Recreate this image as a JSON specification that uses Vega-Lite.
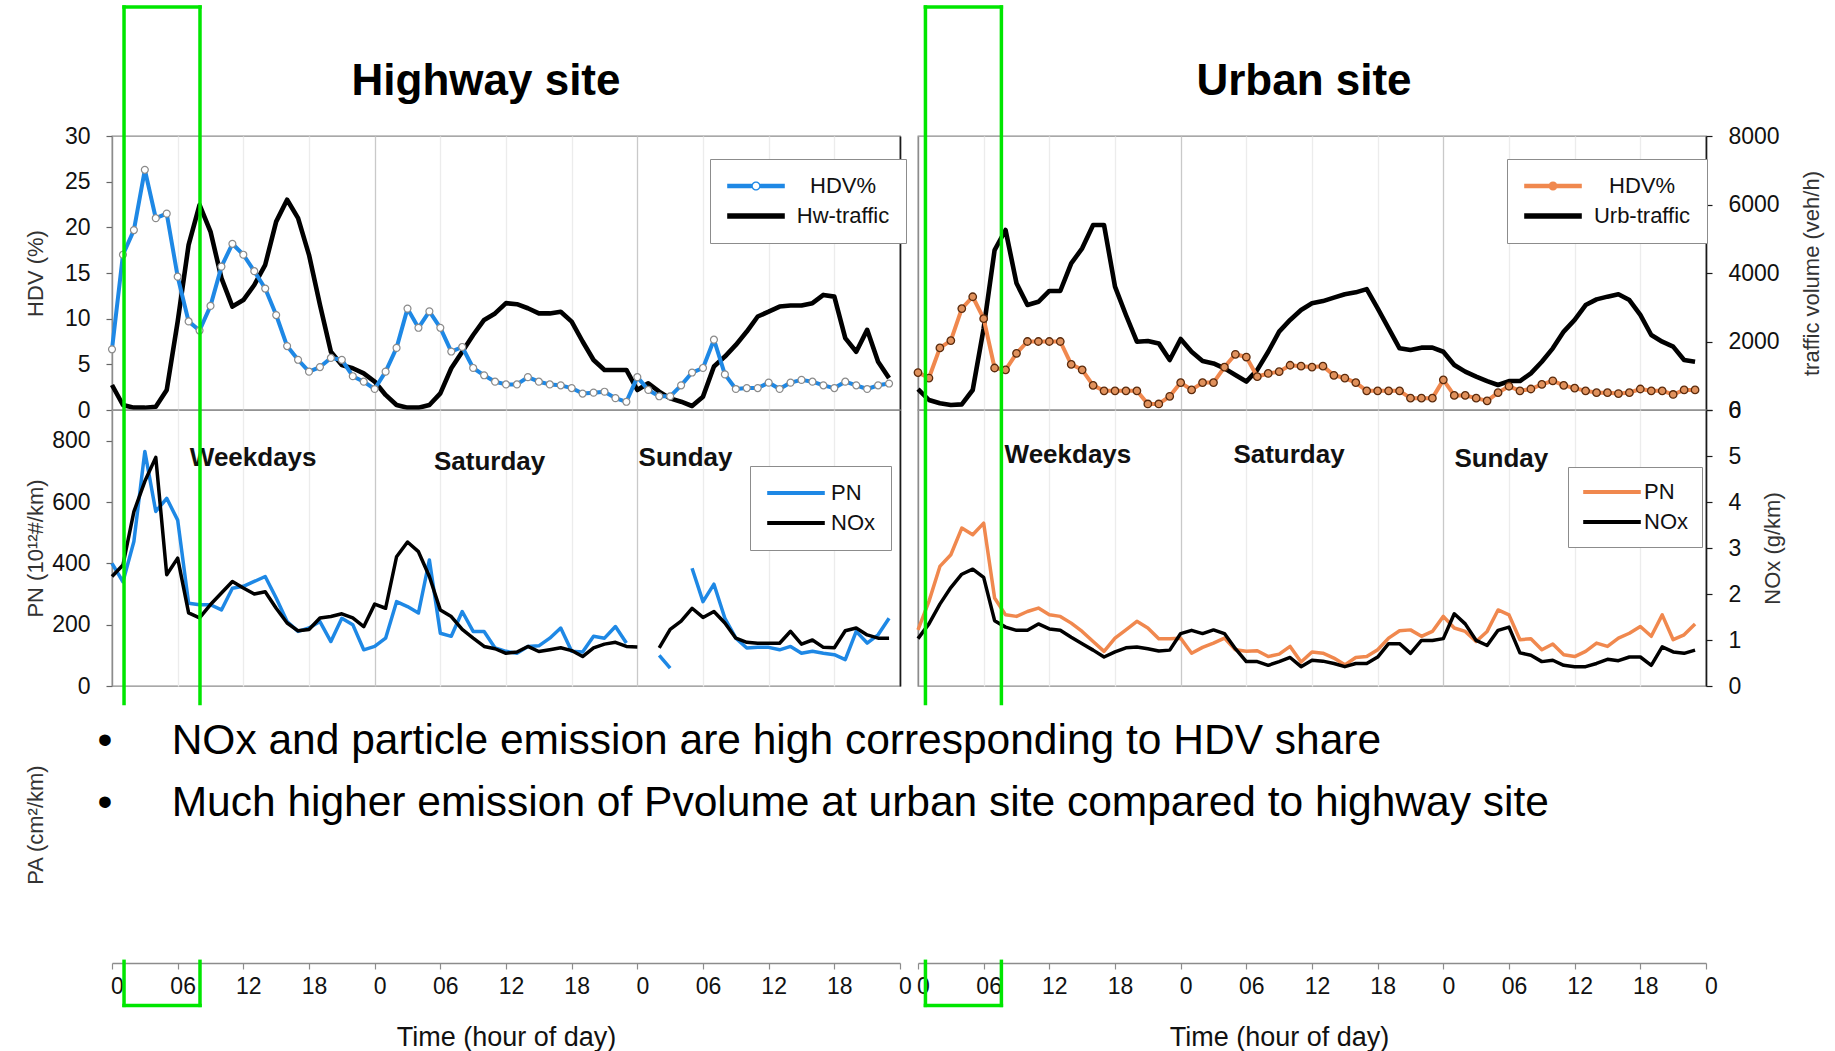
{
  "$schema": "https://vega.github.io/schema/vega-lite/v6.json",
  "background": "white",
  "padding": {"left": 23, "top": 4, "right": 10, "bottom": 4},
  "autosize": {"type": "pad"},
  "config": {
    "font": "Liberation Sans",
    "view": {"stroke": "#8c8c8c", "strokeWidth": 1.3},
    "axis": {"labelFont": "Liberation Sans", "labelFontSize": 23, "labelColor": "#111111", "titleFont": "Liberation Sans", "titleFontSize": 22, "titleFontWeight": "normal", "titleColor": "#333333", "domainColor": "#8c8c8c", "domainWidth": 1.3, "tickColor": "#666666", "tickWidth": 1.2, "grid": false},
    "title": {"font": "Liberation Sans", "fontSize": 44, "fontWeight": "bold", "color": "#000000", "offset": 21},
    "legend": {"labelFont": "Liberation Sans", "labelFontSize": 22, "labelColor": "#111111", "strokeColor": "#8c8c8c", "fillColor": "#ffffff", "padding": 16, "rowPadding": 8, "symbolSize": 324, "symbolOffset": 19},
    "rule": {"stroke": "#00e600", "strokeWidth": 3.5, "strokeCap": "square"}
  },
  "datasets": {
    "hours": [
      {"h":0,"hw_hdv":6.65,"hw_trf":730,"hw_pn":400,"hw_nox":2.38,"ub_hdv":4.1,"ub_trf":613,"ub_pn":183,"ub_nox":1.03},
      {"h":1,"hw_hdv":17.0,"hw_trf":146,"hw_pn":340,"hw_nox":2.63,"ub_hdv":3.5,"ub_trf":292,"ub_pn":276,"ub_nox":1.35},
      {"h":2,"hw_hdv":19.7,"hw_trf":68,"hw_pn":471,"hw_nox":3.79,"ub_hdv":6.8,"ub_trf":195,"ub_pn":390,"ub_nox":1.78},
      {"h":3,"hw_hdv":26.3,"hw_trf":68,"hw_pn":765,"hw_nox":4.45,"ub_hdv":7.6,"ub_trf":146,"ub_pn":428,"ub_nox":2.14},
      {"h":4,"hw_hdv":21.0,"hw_trf":97,"hw_pn":569,"hw_nox":4.97,"ub_hdv":11.1,"ub_trf":165,"ub_pn":515,"ub_nox":2.43},
      {"h":5,"hw_hdv":21.5,"hw_trf":584,"hw_pn":612,"hw_nox":2.42,"ub_hdv":12.4,"ub_trf":584,"ub_pn":493,"ub_nox":2.54},
      {"h":6,"hw_hdv":14.6,"hw_trf":2580,"hw_pn":541,"hw_nox":2.78,"ub_hdv":10.0,"ub_trf":2385,"ub_pn":531,"ub_nox":2.36},
      {"h":7,"hw_hdv":9.7,"hw_trf":4820,"hw_pn":270,"hw_nox":1.59,"ub_hdv":4.6,"ub_trf":4670,"ub_pn":287,"ub_nox":1.42},
      {"h":8,"hw_hdv":8.7,"hw_trf":5990,"hw_pn":265,"hw_nox":1.48,"ub_hdv":4.4,"ub_trf":5255,"ub_pn":232,"ub_nox":1.28},
      {"h":9,"hw_hdv":11.4,"hw_trf":5210,"hw_pn":265,"hw_nox":1.77,"ub_hdv":6.2,"ub_trf":3700,"ub_pn":227,"ub_nox":1.21},
      {"h":10,"hw_hdv":15.7,"hw_trf":3850,"hw_pn":248,"hw_nox":2.02,"ub_hdv":7.5,"ub_trf":3065,"ub_pn":243,"ub_nox":1.21},
      {"h":11,"hw_hdv":18.2,"hw_trf":3020,"hw_pn":319,"hw_nox":2.27,"ub_hdv":7.5,"ub_trf":3160,"ub_pn":254,"ub_nox":1.35},
      {"h":12,"hw_hdv":17.0,"hw_trf":3210,"hw_pn":325,"hw_nox":2.13,"ub_hdv":7.5,"ub_trf":3475,"ub_pn":232,"ub_nox":1.24},
      {"h":13,"hw_hdv":15.2,"hw_trf":3650,"hw_pn":341,"hw_nox":2.00,"ub_hdv":7.5,"ub_trf":3475,"ub_pn":227,"ub_nox":1.21},
      {"h":14,"hw_hdv":13.3,"hw_trf":4240,"hw_pn":357,"hw_nox":2.05,"ub_hdv":5.0,"ub_trf":4280,"ub_pn":205,"ub_nox":1.06},
      {"h":15,"hw_hdv":10.4,"hw_trf":5500,"hw_pn":287,"hw_nox":1.69,"ub_hdv":4.4,"ub_trf":4720,"ub_pn":178,"ub_nox":0.92},
      {"h":16,"hw_hdv":7.0,"hw_trf":6140,"hw_pn":210,"hw_nox":1.37,"ub_hdv":2.7,"ub_trf":5400,"ub_pn":145,"ub_nox":0.78},
      {"h":17,"hw_hdv":5.5,"hw_trf":5600,"hw_pn":178,"hw_nox":1.20,"ub_hdv":2.1,"ub_trf":5400,"ub_pn":113,"ub_nox":0.63},
      {"h":18,"hw_hdv":4.2,"hw_trf":4530,"hw_pn":189,"hw_nox":1.23,"ub_hdv":2.1,"ub_trf":3600,"ub_pn":156,"ub_nox":0.74},
      {"h":19,"hw_hdv":4.7,"hw_trf":3070,"hw_pn":210,"hw_nox":1.48,"ub_hdv":2.1,"ub_trf":2775,"ub_pn":183,"ub_nox":0.83},
      {"h":20,"hw_hdv":5.7,"hw_trf":1700,"hw_pn":145,"hw_nox":1.51,"ub_hdv":2.1,"ub_trf":1995,"ub_pn":211,"ub_nox":0.85},
      {"h":21,"hw_hdv":5.5,"hw_trf":1310,"hw_pn":221,"hw_nox":1.57,"ub_hdv":0.66,"ub_trf":2015,"ub_pn":189,"ub_nox":0.81},
      {"h":22,"hw_hdv":3.7,"hw_trf":1220,"hw_pn":200,"hw_nox":1.48,"ub_hdv":0.66,"ub_trf":1945,"ub_pn":154,"ub_nox":0.76},
      {"h":23,"hw_hdv":3.1,"hw_trf":1070,"hw_pn":118,"hw_nox":1.29,"ub_hdv":1.5,"ub_trf":1460,"ub_pn":154,"ub_nox":0.78},
      {"h":24,"hw_hdv":2.3,"hw_trf":830,"hw_pn":129,"hw_nox":1.78,"ub_hdv":3.0,"ub_trf":2073,"ub_pn":156,"ub_nox":1.14},
      {"h":25,"hw_hdv":4.2,"hw_trf":440,"hw_pn":156,"hw_nox":1.69,"ub_hdv":2.2,"ub_trf":1700,"ub_pn":107,"ub_nox":1.21},
      {"h":26,"hw_hdv":6.8,"hw_trf":146,"hw_pn":275,"hw_nox":2.81,"ub_hdv":3.0,"ub_trf":1430,"ub_pn":126,"ub_nox":1.14},
      {"h":27,"hw_hdv":11.1,"hw_trf":68,"hw_pn":259,"hw_nox":3.13,"ub_hdv":3.0,"ub_trf":1360,"ub_pn":140,"ub_nox":1.22},
      {"h":28,"hw_hdv":9.0,"hw_trf":68,"hw_pn":238,"hw_nox":2.92,"ub_hdv":4.7,"ub_trf":1215,"ub_pn":156,"ub_nox":1.14},
      {"h":29,"hw_hdv":10.8,"hw_trf":146,"hw_pn":411,"hw_nox":2.38,"ub_hdv":6.1,"ub_trf":1020,"ub_pn":118,"ub_nox":0.81},
      {"h":30,"hw_hdv":9.0,"hw_trf":487,"hw_pn":172,"hw_nox":1.65,"ub_hdv":5.8,"ub_trf":830,"ub_pn":113,"ub_nox":0.53},
      {"h":31,"hw_hdv":6.4,"hw_trf":1220,"hw_pn":162,"hw_nox":1.51,"ub_hdv":3.65,"ub_trf":1170,"ub_pn":115,"ub_nox":0.53},
      {"h":32,"hw_hdv":6.9,"hw_trf":1700,"hw_pn":243,"hw_nox":1.23,"ub_hdv":4.0,"ub_trf":1700,"ub_pn":96,"ub_nox":0.45},
      {"h":33,"hw_hdv":4.6,"hw_trf":2190,"hw_pn":178,"hw_nox":1.04,"ub_hdv":4.2,"ub_trf":2290,"ub_pn":104,"ub_nox":0.53},
      {"h":34,"hw_hdv":3.8,"hw_trf":2630,"hw_pn":178,"hw_nox":0.86,"ub_hdv":4.9,"ub_trf":2630,"ub_pn":129,"ub_nox":0.62},
      {"h":35,"hw_hdv":3.1,"hw_trf":2820,"hw_pn":124,"hw_nox":0.81,"ub_hdv":4.8,"ub_trf":2920,"ub_pn":78,"ub_nox":0.42},
      {"h":36,"hw_hdv":2.8,"hw_trf":3120,"hw_pn":113,"hw_nox":0.71,"ub_hdv":4.7,"ub_trf":3115,"ub_pn":111,"ub_nox":0.56},
      {"h":37,"hw_hdv":2.8,"hw_trf":3090,"hw_pn":107,"hw_nox":0.74,"ub_hdv":4.8,"ub_trf":3180,"ub_pn":107,"ub_nox":0.54},
      {"h":38,"hw_hdv":3.6,"hw_trf":2970,"hw_pn":129,"hw_nox":0.86,"ub_hdv":3.8,"ub_trf":3280,"ub_pn":91,"ub_nox":0.49},
      {"h":39,"hw_hdv":3.1,"hw_trf":2820,"hw_pn":131,"hw_nox":0.75,"ub_hdv":3.5,"ub_trf":3380,"ub_pn":69,"ub_nox":0.42},
      {"h":40,"hw_hdv":2.8,"hw_trf":2820,"hw_pn":156,"hw_nox":0.79,"ub_hdv":3.0,"ub_trf":3435,"ub_pn":93,"ub_nox":0.49},
      {"h":41,"hw_hdv":2.7,"hw_trf":2870,"hw_pn":189,"hw_nox":0.83,"ub_hdv":2.1,"ub_trf":3530,"ub_pn":96,"ub_nox":0.49},
      {"h":42,"hw_hdv":2.4,"hw_trf":2580,"hw_pn":113,"hw_nox":0.77,"ub_hdv":2.1,"ub_trf":2970,"ub_pn":118,"ub_nox":0.63},
      {"h":43,"hw_hdv":1.8,"hw_trf":2000,"hw_pn":111,"hw_nox":0.64,"ub_hdv":2.1,"ub_trf":2385,"ub_pn":156,"ub_nox":0.92},
      {"h":44,"hw_hdv":1.9,"hw_trf":1460,"hw_pn":162,"hw_nox":0.83,"ub_hdv":2.1,"ub_trf":1800,"ub_pn":180,"ub_nox":0.92},
      {"h":45,"hw_hdv":2.0,"hw_trf":1170,"hw_pn":156,"hw_nox":0.91,"ub_hdv":1.3,"ub_trf":1750,"ub_pn":183,"ub_nox":0.71},
      {"h":46,"hw_hdv":1.3,"hw_trf":1170,"hw_pn":194,"hw_nox":0.95,"ub_hdv":1.3,"ub_trf":1820,"ub_pn":162,"ub_nox":0.99},
      {"h":47,"hw_hdv":0.9,"hw_trf":1170,"hw_pn":140,"hw_nox":0.86,"ub_hdv":1.3,"ub_trf":1820,"ub_pn":178,"ub_nox":0.99},
      {"h":48,"hw_hdv":3.6,"hw_trf":584,"hw_pn":null,"hw_nox":0.85,"ub_hdv":3.3,"ub_trf":1700,"ub_pn":227,"ub_nox":1.03},
      {"h":49,"hw_hdv":2.2,"hw_trf":780,"hw_pn":null,"hw_nox":null,"ub_hdv":1.6,"ub_trf":1315,"ub_pn":189,"ub_nox":1.57},
      {"h":50,"hw_hdv":1.5,"hw_trf":535,"hw_pn":100,"hw_nox":0.83,"ub_hdv":1.6,"ub_trf":1120,"ub_pn":178,"ub_nox":1.35},
      {"h":51,"hw_hdv":1.5,"hw_trf":340,"hw_pn":58,"hw_nox":1.23,"ub_hdv":1.3,"ub_trf":975,"ub_pn":145,"ub_nox":0.99},
      {"h":52,"hw_hdv":2.7,"hw_trf":243,"hw_pn":null,"hw_nox":1.41,"ub_hdv":1.0,"ub_trf":845,"ub_pn":178,"ub_nox":0.88},
      {"h":53,"hw_hdv":4.1,"hw_trf":117,"hw_pn":384,"hw_nox":1.69,"ub_hdv":1.9,"ub_trf":730,"ub_pn":248,"ub_nox":1.21},
      {"h":54,"hw_hdv":4.6,"hw_trf":390,"hw_pn":275,"hw_nox":1.49,"ub_hdv":2.6,"ub_trf":845,"ub_pn":232,"ub_nox":1.28},
      {"h":55,"hw_hdv":7.7,"hw_trf":1270,"hw_pn":332,"hw_nox":1.62,"ub_hdv":2.1,"ub_trf":845,"ub_pn":151,"ub_nox":0.72},
      {"h":56,"hw_hdv":3.9,"hw_trf":1560,"hw_pn":221,"hw_nox":1.37,"ub_hdv":2.3,"ub_trf":1070,"ub_pn":154,"ub_nox":0.67},
      {"h":57,"hw_hdv":2.3,"hw_trf":1900,"hw_pn":156,"hw_nox":1.04,"ub_hdv":2.8,"ub_trf":1410,"ub_pn":118,"ub_nox":0.53},
      {"h":58,"hw_hdv":2.4,"hw_trf":2290,"hw_pn":124,"hw_nox":0.95,"ub_hdv":3.2,"ub_trf":1800,"ub_pn":137,"ub_nox":0.56},
      {"h":59,"hw_hdv":2.4,"hw_trf":2730,"hw_pn":126,"hw_nox":0.93,"ub_hdv":2.7,"ub_trf":2290,"ub_pn":102,"ub_nox":0.45},
      {"h":60,"hw_hdv":3.0,"hw_trf":2870,"hw_pn":126,"hw_nox":0.93,"ub_hdv":2.4,"ub_trf":2630,"ub_pn":96,"ub_nox":0.42},
      {"h":61,"hw_hdv":2.3,"hw_trf":3020,"hw_pn":118,"hw_nox":0.93,"ub_hdv":2.1,"ub_trf":3065,"ub_pn":113,"ub_nox":0.42},
      {"h":62,"hw_hdv":3.0,"hw_trf":3050,"hw_pn":129,"hw_nox":1.19,"ub_hdv":1.9,"ub_trf":3230,"ub_pn":140,"ub_nox":0.49},
      {"h":63,"hw_hdv":3.3,"hw_trf":3050,"hw_pn":107,"hw_nox":0.91,"ub_hdv":1.9,"ub_trf":3310,"ub_pn":129,"ub_nox":0.58},
      {"h":64,"hw_hdv":3.1,"hw_trf":3120,"hw_pn":113,"hw_nox":1.00,"ub_hdv":1.8,"ub_trf":3380,"ub_pn":156,"ub_nox":0.55},
      {"h":65,"hw_hdv":2.7,"hw_trf":3360,"hw_pn":107,"hw_nox":0.84,"ub_hdv":1.9,"ub_trf":3210,"ub_pn":172,"ub_nox":0.63},
      {"h":66,"hw_hdv":2.4,"hw_trf":3310,"hw_pn":102,"hw_nox":0.83,"ub_hdv":2.3,"ub_trf":2775,"ub_pn":194,"ub_nox":0.63},
      {"h":67,"hw_hdv":3.1,"hw_trf":2100,"hw_pn":86,"hw_nox":1.20,"ub_hdv":2.1,"ub_trf":2190,"ub_pn":162,"ub_nox":0.45},
      {"h":68,"hw_hdv":2.7,"hw_trf":1700,"hw_pn":178,"hw_nox":1.26,"ub_hdv":2.1,"ub_trf":1995,"ub_pn":232,"ub_nox":0.85},
      {"h":69,"hw_hdv":2.3,"hw_trf":2340,"hw_pn":140,"hw_nox":1.11,"ub_hdv":1.7,"ub_trf":1850,"ub_pn":151,"ub_nox":0.74},
      {"h":70,"hw_hdv":2.7,"hw_trf":1410,"hw_pn":167,"hw_nox":1.04,"ub_hdv":2.2,"ub_trf":1460,"ub_pn":167,"ub_nox":0.71},
      {"h":71,"hw_hdv":2.9,"hw_trf":930,"hw_pn":221,"hw_nox":1.04,"ub_hdv":2.2,"ub_trf":1410,"ub_pn":202,"ub_nox":0.78}
    ],
    "hw_days": [
      {"label": "Weekdays", "h": 12.9, "pn": 745},
      {"label": "Saturday", "h": 34.5, "pn": 731},
      {"label": "Sunday", "h": 52.4, "pn": 742}
    ],
    "ub_days": [
      {"label": "Weekdays", "h": 13.7, "pn": 752},
      {"label": "Saturday", "h": 33.9, "pn": 752},
      {"label": "Sunday", "h": 53.3, "pn": 740}
    ],
    "bullets": [
      {"text": "NOx and particle emission are high corresponding to HDV share", "pa": 0.802},
      {"text": "Much higher emission of Pvolume at urban site compared to highway site", "pa": 0.578}
    ]
  },
  "concat": [
    {
      "width": 788, "height": 274,
      "title": {"text": "Highway site", "dx": -20},
      "data": {"name": "hours"},
      "encoding": {"x": {"field": "h", "type": "quantitative", "scale": {"domain": [0, 72], "nice": false, "zero": false},
        "axis": {"values": [0,6,12,18,24,30,36,42,48,54,60,66,72], "grid": true, "gridColor": {"condition": {"test": "datum.value % 24 === 0", "value": "#c9c9c9"}, "value": "#ececec"}, "gridWidth": 1.3, "labels": false, "ticks": false, "domain": false, "title": null}}},
      "layer": [
        {"mark": {"type": "line", "strokeWidth": 4.6, "strokeJoin": "round"},
         "encoding": {
           "y": {"field": "hw_trf", "type": "quantitative", "scale": {"domain": [0, 8000], "nice": false},
             "axis": {"orient": "right", "labels": false, "ticks": false, "title": null, "domainColor": "#1a1a1a", "domainWidth": 1.6}},
           "color": {"datum": "Hw-traffic", "type": "nominal", "scale": {"domain": ["HDV%", "Hw-traffic"], "range": ["#1e88e5", "#000000"]},
             "legend": {"orient": "none", "legendX": 598, "legendY": 23, "title": null, "labelAlign": "center", "labelOffset": 76, "symbolType": "M-3.2,-0.31H3.2V0.31H-3.2Z",
               "encode": {"symbols": {"update": {
                 "shape": {"signal": "datum.value === 'HDV%' ? 'M-3.2,-0.26H-0.47V0.26H-3.2ZM0.47,-0.26H3.2V0.26H0.47ZM0.51,0A0.51,0.51,0,1,1,-0.51,0A0.51,0.51,0,1,1,0.51,0ZM0.36,0A0.36,0.36,0,1,0,-0.36,0A0.36,0.36,0,1,0,0.36,0Z' : 'M-3.2,-0.31H3.2V0.31H-3.2Z'"},
                 "fill": {"signal": "datum.value === 'HDV%' ? '#1e88e5' : '#000000'"},
                 "stroke": {"value": "transparent"}, "strokeWidth": {"value": 0}, "opacity": {"value": 1}}}}}}
         }},
        {"layer": [
          {"mark": {"type": "line", "strokeWidth": 4, "strokeJoin": "round"},
           "encoding": {
             "y": {"field": "hw_hdv", "type": "quantitative", "scale": {"domain": [0, 30], "nice": false},
               "axis": {"orient": "left", "values": [0,5,10,15,20,25,30], "title": "HDV (%)", "tickSize": 6, "labelPadding": 16, "minExtent": 61, "maxExtent": 61, "titlePadding": 4}},
             "color": {"datum": "HDV%", "type": "nominal"}}},
          {"mark": {"type": "point", "filled": true, "fill": "#ffffff", "stroke": "#8a8a8a", "strokeWidth": 1.2, "size": 48, "opacity": 1},
           "encoding": {"y": {"field": "hw_hdv", "type": "quantitative"}}}
        ]}
      ],
      "resolve": {"scale": {"y": "independent"}}
    },
    {
      "width": 788, "height": 274,
      "title": {"text": "Urban site", "dx": -8},
      "data": {"name": "hours"},
      "encoding": {"x": {"field": "h", "type": "quantitative", "scale": {"domain": [0, 72], "nice": false, "zero": false},
        "axis": {"values": [0,6,12,18,24,30,36,42,48,54,60,66,72], "grid": true, "gridColor": {"condition": {"test": "datum.value % 24 === 0", "value": "#c9c9c9"}, "value": "#ececec"}, "gridWidth": 1.3, "labels": false, "ticks": false, "domain": false, "title": null}}},
      "layer": [
        {"mark": {"type": "line", "strokeWidth": 4.6, "strokeJoin": "round"},
         "encoding": {
           "y": {"field": "ub_trf", "type": "quantitative", "scale": {"domain": [0, 8000], "nice": false},
             "axis": {"orient": "right", "values": [0,2000,4000,6000,8000], "format": "d", "title": "traffic volume (veh/h)", "tickSize": 6, "tickColor": "#1a1a1a", "domainColor": "#1a1a1a", "domainWidth": 1.6, "labelPadding": 16, "titlePadding": 22, "titleAngle": 270, "titleBaseline": "top"}},
           "color": {"datum": "Urb-traffic", "type": "nominal", "scale": {"domain": ["HDV%", "Urb-traffic"], "range": ["#f0884e", "#000000"]},
             "legend": {"orient": "none", "legendX": 589, "legendY": 23, "title": null, "labelAlign": "center", "labelOffset": 78, "symbolType": "M-3.2,-0.31H3.2V0.31H-3.2Z",
               "encode": {"symbols": {"update": {
                 "shape": {"signal": "datum.value === 'HDV%' ? 'M-3.2,-0.26H3.2V0.26H-3.2ZM0.5,0A0.5,0.5,0,1,1,-0.5,0A0.5,0.5,0,1,1,0.5,0Z' : 'M-3.2,-0.31H3.2V0.31H-3.2Z'"},
                 "fill": {"signal": "datum.value === 'HDV%' ? '#f0884e' : '#000000'"},
                 "stroke": {"value": "transparent"}, "strokeWidth": {"value": 0}, "opacity": {"value": 1}}}}}}
         }},
        {"layer": [
          {"mark": {"type": "line", "strokeWidth": 4, "strokeJoin": "round"},
           "encoding": {
             "y": {"field": "ub_hdv", "type": "quantitative", "scale": {"domain": [0, 30], "nice": false},
               "axis": {"orient": "left", "labels": false, "ticks": false, "title": null}},
             "color": {"datum": "HDV%", "type": "nominal"}}},
          {"mark": {"type": "point", "filled": true, "fill": "#e0915c", "stroke": "#5a2a0c", "strokeWidth": 1.3, "size": 56, "opacity": 1},
           "encoding": {"y": {"field": "ub_hdv", "type": "quantitative"}}}
        ]}
      ],
      "resolve": {"scale": {"y": "independent"}}
    },
    {
      "width": 788, "height": 276,
      "data": {"name": "hours"},
      "encoding": {"x": {"field": "h", "type": "quantitative", "scale": {"domain": [0, 72], "nice": false, "zero": false},
        "axis": {"values": [0,6,12,18,24,30,36,42,48,54,60,66,72], "grid": true, "gridColor": {"condition": {"test": "datum.value % 24 === 0", "value": "#c9c9c9"}, "value": "#ececec"}, "gridWidth": 1.3, "labels": false, "ticks": false, "domain": false, "title": null}}},
      "layer": [
        {"layer": [
          {"mark": {"type": "line", "strokeWidth": 3.5, "strokeJoin": "round"},
           "encoding": {
             "y": {"field": "hw_pn", "type": "quantitative", "scale": {"domain": [0, 900], "nice": false},
               "axis": {"orient": "left", "values": [0,200,400,600,800], "title": "PN (10¹²#/km)", "tickSize": 6, "labelPadding": 16, "minExtent": 61, "maxExtent": 61, "titlePadding": 4}},
             "color": {"datum": "PN", "type": "nominal", "scale": {"domain": ["PN", "NOx"], "range": ["#1e88e5", "#000000"]},
               "legend": {"orient": "none", "legendX": 638, "legendY": 56, "title": null, "labelOffset": 24, "symbolType": "M-3.2,-0.23H3.2V0.23H-3.2Z",
                 "encode": {"symbols": {"update": {
                   "shape": {"value": "M-3.2,-0.23H3.2V0.23H-3.2Z"},
                   "fill": {"signal": "datum.value === 'PN' ? '#1e88e5' : '#000000'"},
                   "stroke": {"value": "transparent"}, "strokeWidth": {"value": 0}, "opacity": {"value": 1}}}}}}}},
          {"data": {"name": "hw_days"}, "mark": {"type": "text", "fontSize": 26, "fontWeight": "bold", "align": "center", "baseline": "middle", "color": "#111111"},
           "encoding": {"y": {"field": "pn", "type": "quantitative"}, "text": {"field": "label"}}}
        ]},
        {"mark": {"type": "line", "strokeWidth": 3.5, "strokeJoin": "round"},
         "encoding": {
           "y": {"field": "hw_nox", "type": "quantitative", "scale": {"domain": [0, 6], "nice": false},
             "axis": {"orient": "right", "labels": false, "ticks": false, "title": null, "domainColor": "#1a1a1a", "domainWidth": 1.6}},
           "color": {"datum": "NOx", "type": "nominal"}}}
      ],
      "resolve": {"scale": {"y": "independent"}}
    },
    {
      "width": 788, "height": 276,
      "data": {"name": "hours"},
      "encoding": {"x": {"field": "h", "type": "quantitative", "scale": {"domain": [0, 72], "nice": false, "zero": false},
        "axis": {"values": [0,6,12,18,24,30,36,42,48,54,60,66,72], "grid": true, "gridColor": {"condition": {"test": "datum.value % 24 === 0", "value": "#c9c9c9"}, "value": "#ececec"}, "gridWidth": 1.3, "labels": false, "ticks": false, "domain": false, "title": null}}},
      "layer": [
        {"layer": [
          {"mark": {"type": "line", "strokeWidth": 3.5, "strokeJoin": "round"},
           "encoding": {
             "y": {"field": "ub_pn", "type": "quantitative", "scale": {"domain": [0, 900], "nice": false},
               "axis": {"orient": "left", "labels": false, "ticks": false, "title": null}},
             "color": {"datum": "PN", "type": "nominal", "scale": {"domain": ["PN", "NOx"], "range": ["#f0884e", "#000000"]},
               "legend": {"orient": "none", "legendX": 650, "legendY": 57, "title": null, "labelOffset": 21, "padding": 14, "symbolType": "M-3.2,-0.23H3.2V0.23H-3.2Z",
                 "encode": {"symbols": {"update": {
                   "shape": {"value": "M-3.2,-0.23H3.2V0.23H-3.2Z"},
                   "fill": {"signal": "datum.value === 'PN' ? '#f0884e' : '#000000'"},
                   "stroke": {"value": "transparent"}, "strokeWidth": {"value": 0}, "opacity": {"value": 1}}}}}}}},
          {"data": {"name": "ub_days"}, "mark": {"type": "text", "fontSize": 26, "fontWeight": "bold", "align": "center", "baseline": "middle", "color": "#111111"},
           "encoding": {"y": {"field": "pn", "type": "quantitative"}, "text": {"field": "label"}}}
        ]},
        {"mark": {"type": "line", "strokeWidth": 3.5, "strokeJoin": "round"},
         "encoding": {
           "y": {"field": "ub_nox", "type": "quantitative", "scale": {"domain": [0, 6], "nice": false},
             "axis": {"orient": "right", "values": [0,1,2,3,4,5,6], "title": "NOx (g/km)", "tickSize": 6, "tickColor": "#1a1a1a", "domainColor": "#1a1a1a", "domainWidth": 1.6, "labelPadding": 16, "titlePadding": 22, "titleAngle": 270, "titleBaseline": "top"}},
           "color": {"datum": "NOx", "type": "nominal"}}}
      ],
      "resolve": {"scale": {"y": "independent"}}
    },
    {
      "width": 788, "height": 277,
      "view": {"stroke": null},
      "layer": [
        {"data": {"name": "bullets"},
         "mark": {"type": "text", "align": "left", "baseline": "middle", "fontSize": 42.5, "color": "#000000"},
         "encoding": {
           "x": {"datum": 5.45, "type": "quantitative", "scale": {"domain": [0, 72], "nice": false, "zero": false},
             "axis": {"values": [0,6,12,18,24,30,36,42,48,54,60,66,72], "labelExpr": "datum.value % 24 === 0 ? '0' : (datum.value % 24 === 6 ? '06' : '' + (datum.value % 24))", "grid": false, "domain": true, "domainColor": "#8c8c8c", "ticks": true, "tickSize": 6, "tickColor": "#8c8c8c", "labelPadding": 6, "labelOffset": 5, "labelOverlap": false, "labelBound": false, "labelFlush": false, "title": "Time (hour of day)", "titleFontSize": 27, "titleColor": "#111111", "titlePadding": 26}},
           "y": {"field": "pa", "type": "quantitative", "scale": {"domain": [0, 1], "nice": false},
             "axis": {"orient": "left", "title": "PA (cm²/km)", "labels": false, "ticks": false, "domain": false, "minExtent": 61, "maxExtent": 61, "titlePadding": 4}},
           "text": {"field": "text"}}},
        {"data": {"name": "bullets"},
         "mark": {"type": "text", "align": "center", "baseline": "middle", "fontSize": 42.5, "color": "#000000", "text": "•"},
         "encoding": {"x": {"datum": -0.64, "type": "quantitative"}, "y": {"field": "pa", "type": "quantitative"}}},
        {"data": {"values": [{}]}, "mark": {"type": "rule"}, "encoding": {"x": {"datum": 1.1, "type": "quantitative"}, "y": {"datum": 3.451, "type": "quantitative"}, "y2": {"datum": 0.937}}},
        {"data": {"values": [{}]}, "mark": {"type": "rule"}, "encoding": {"x": {"datum": 8.04, "type": "quantitative"}, "y": {"datum": 3.451, "type": "quantitative"}, "y2": {"datum": 0.937}}},
        {"data": {"values": [{}]}, "mark": {"type": "rule"}, "encoding": {"x": {"datum": 1.1, "type": "quantitative"}, "x2": {"datum": 8.04}, "y": {"datum": 3.451, "type": "quantitative"}}},
        {"data": {"values": [{}]}, "mark": {"type": "rule"}, "encoding": {"x": {"datum": 1.1, "type": "quantitative"}, "y": {"datum": 0.006, "type": "quantitative"}, "y2": {"datum": -0.153}}},
        {"data": {"values": [{}]}, "mark": {"type": "rule"}, "encoding": {"x": {"datum": 8.04, "type": "quantitative"}, "y": {"datum": 0.006, "type": "quantitative"}, "y2": {"datum": -0.153}}},
        {"data": {"values": [{}]}, "mark": {"type": "rule"}, "encoding": {"x": {"datum": 1.1, "type": "quantitative"}, "x2": {"datum": 8.04}, "y": {"datum": -0.153, "type": "quantitative"}}}
      ]
    },
    {
      "width": 788, "height": 277,
      "view": {"stroke": null},
      "encoding": {
        "x": {"type": "quantitative", "scale": {"domain": [0, 72], "nice": false, "zero": false},
          "axis": {"values": [0,6,12,18,24,30,36,42,48,54,60,66,72], "labelExpr": "datum.value % 24 === 0 ? '0' : (datum.value % 24 === 6 ? '06' : '' + (datum.value % 24))", "grid": false, "domain": true, "domainColor": "#8c8c8c", "ticks": true, "tickSize": 6, "tickColor": "#8c8c8c", "labelPadding": 6, "labelOffset": 5, "labelOverlap": false, "labelBound": false, "labelFlush": false, "title": "Time (hour of day)", "titleFontSize": 27, "titleColor": "#111111", "titlePadding": 26, "titleX": 361}},
        "y": {"type": "quantitative", "scale": {"domain": [0, 1], "nice": false}, "axis": null}
      },
      "layer": [
        {"data": {"values": [{}]}, "mark": {"type": "rule"}, "encoding": {"x": {"datum": 0.68, "type": "quantitative"}, "y": {"datum": 3.451, "type": "quantitative"}, "y2": {"datum": 0.937}}},
        {"data": {"values": [{}]}, "mark": {"type": "rule"}, "encoding": {"x": {"datum": 7.62, "type": "quantitative"}, "y": {"datum": 3.451, "type": "quantitative"}, "y2": {"datum": 0.937}}},
        {"data": {"values": [{}]}, "mark": {"type": "rule"}, "encoding": {"x": {"datum": 0.68, "type": "quantitative"}, "x2": {"datum": 7.62}, "y": {"datum": 3.451, "type": "quantitative"}}},
        {"data": {"values": [{}]}, "mark": {"type": "rule"}, "encoding": {"x": {"datum": 0.68, "type": "quantitative"}, "y": {"datum": 0.006, "type": "quantitative"}, "y2": {"datum": -0.153}}},
        {"data": {"values": [{}]}, "mark": {"type": "rule"}, "encoding": {"x": {"datum": 7.62, "type": "quantitative"}, "y": {"datum": 0.006, "type": "quantitative"}, "y2": {"datum": -0.153}}},
        {"data": {"values": [{}]}, "mark": {"type": "rule"}, "encoding": {"x": {"datum": 0.68, "type": "quantitative"}, "x2": {"datum": 7.62}, "y": {"datum": -0.153, "type": "quantitative"}}}
      ]
    }
  ],
  "columns": 2,
  "spacing": {"row": 0, "column": 18},
  "bounds": "flush",
  "resolve": {"scale": {"color": "independent"}, "legend": {"color": "independent"}}
}
